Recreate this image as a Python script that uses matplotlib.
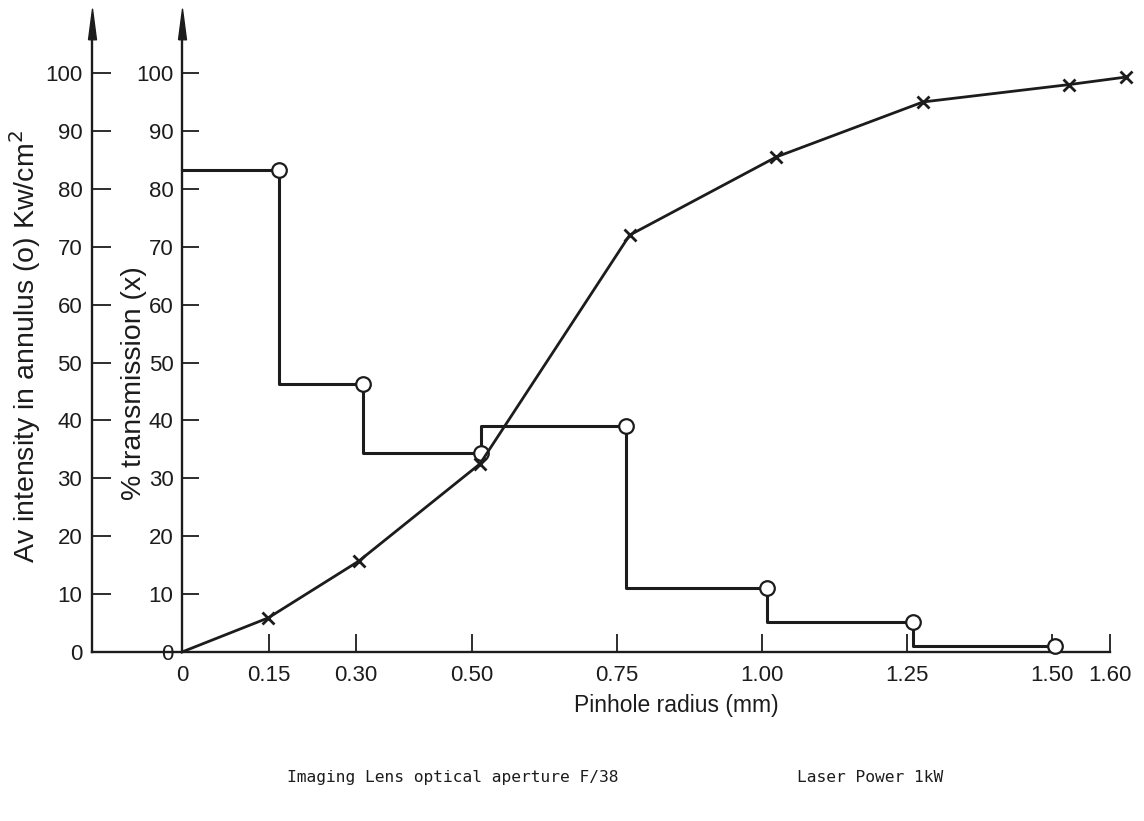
import matplotlib
matplotlib.use("Agg")
import matplotlib.pyplot as plt

# ---- data ----
intensity_r = [0.167, 0.312, 0.515, 0.766, 1.009, 1.26, 1.505]
intensity_v = [83.3, 46.3, 34.3, 39.0, 11.0, 5.2, 1.0]
intensity_start = 83.3

trans_r = [0.0, 0.149, 0.305, 0.514, 0.772, 1.025, 1.278, 1.53, 1.628]
trans_v = [0.0, 5.9, 15.7, 32.5, 72.0, 85.5, 95.0, 98.0, 99.3]

xtick_vals = [0, 0.15, 0.30, 0.50, 0.75, 1.00, 1.25, 1.50, 1.60]
xtick_labels = ["0", "0.15", "0.30", "0.50", "0.75", "1.00", "1.25", "1.50", "1.60"]
ytick_vals = list(range(0, 101, 10))

XMIN, XMAX = -0.155, 1.652
YMIN, YMAX = -2, 112
INK = "#1c1c1c"
FONT = ["Liberation Sans", "DejaVu Sans"]
MONO = ["DejaVu Sans Mono", "Liberation Mono"]

plt.rcParams["font.family"] = FONT

fig = plt.figure(figsize=(11.44, 8.21), dpi=100)
AX_L, AX_W = 92, 1048
AX_TOP, AX_BOT = 3.5, 663.6
rect = [AX_L / 1144, 1 - AX_BOT / 821, AX_W / 1144, (AX_BOT - AX_TOP) / 821]

def fx(px):
    return (px - AX_L) / AX_W

def fy(py):
    return 1 - (py - AX_TOP) / (AX_BOT - AX_TOP)

# main axes: left spine = intensity axis
ax = fig.add_axes(rect)
ax.set_xlim(XMIN, XMAX)
ax.set_ylim(YMIN, YMAX)
for s in ["top", "right"]:
    ax.spines[s].set_visible(False)
ax.spines["left"].set_bounds(0, 108)
ax.spines["bottom"].set_bounds(XMIN, 1.60)
ax.spines["bottom"].set_position(("data", 0))
for s in ["left", "bottom"]:
    ax.spines[s].set_linewidth(1.7)
    ax.spines[s].set_color(INK)
ax.set_yticks(ytick_vals)
ax.set_yticklabels([str(v) for v in ytick_vals])
ax.set_xticks(xtick_vals)
ax.set_xticklabels(xtick_labels)
ax.tick_params(axis="y", direction="in", length=14, width=1.3, colors=INK,
               labelsize=16, pad=7)
ax.tick_params(axis="x", direction="in", length=13, width=1.3, colors=INK,
               labelsize=16, pad=9)
ax.set_ylabel("Av intensity in annulus (o) Kw/cm$^2$", fontsize=20.5, color=INK)
ax.set_xlabel("Pinhole radius (mm)", fontsize=16.5, color=INK)
ax.xaxis.set_label_coords(fx(676), -0.046)

# transmission axis overlay
ax_t = fig.add_axes(rect, sharey=ax)
ax_t.set_xlim(XMIN, XMAX)
ax_t.patch.set_visible(False)
for s in ["top", "right", "bottom"]:
    ax_t.spines[s].set_visible(False)
ax_t.spines["left"].set_position(("data", 0))
ax_t.spines["left"].set_bounds(0, 108)
ax_t.spines["left"].set_linewidth(1.7)
ax_t.spines["left"].set_color(INK)
ax_t.set_xticks([])
ax_t.tick_params(axis="y", direction="in", length=12, width=1.3, colors=INK,
                 labelsize=16, pad=6)
ax_t.set_ylabel("% transmission (x)", fontsize=20.5, color=INK)

# label positions (axes fraction)
ax.yaxis.set_label_coords(fx(43), fy(347))
ax_t.yaxis.set_label_coords(fx(147), fy(383))

# arrow heads at top of both vertical axes
arrow = [(-0.26, -1.0), (0.0, 1.0), (0.26, -1.0), (-0.26, -1.0)]
ax.plot([XMIN], [108.5], marker=arrow, markersize=22, color=INK, clip_on=False)
ax_t.plot([0], [108.5], marker=arrow, markersize=22, color=INK, clip_on=False)

# intensity step curve (o)
ax.step([0] + intensity_r, [intensity_start] + intensity_v, where="pre",
        color=INK, lw=2.2, clip_on=False, zorder=3)
ax.plot(intensity_r, intensity_v, linestyle="none", marker="o", markersize=10.5,
        markerfacecolor="white", markeredgecolor=INK, markeredgewidth=1.6,
        clip_on=False, zorder=4)

# transmission curve (x)
ax_t.plot(trans_r, trans_v, color=INK, lw=2.0, clip_on=False, zorder=3)
ax_t.plot(trans_r[1:], trans_v[1:], linestyle="none", marker="x", markersize=8,
          markeredgewidth=2.0, color=INK, clip_on=False, zorder=4)

# footer texts
fig.text(287 / 1144, 1 - 777 / 821, "Imaging Lens optical aperture F/38",
         family=MONO, fontsize=11.7, color=INK, va="center", ha="left")
fig.text(797 / 1144, 1 - 777 / 821, "Laser Power 1kW",
         family=MONO, fontsize=11.7, color=INK, va="center", ha="left")

fig.savefig("out.png", dpi=100)
